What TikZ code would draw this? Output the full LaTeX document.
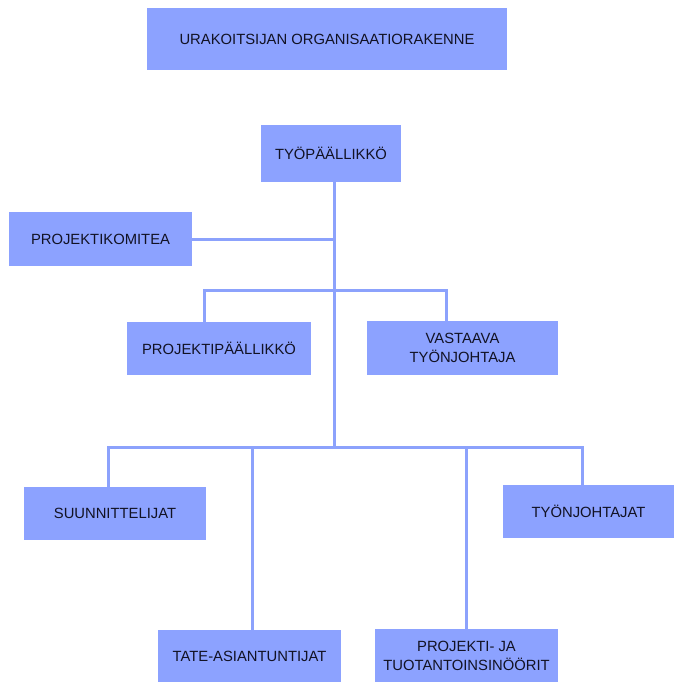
\documentclass[tikz,border=0pt]{standalone}
\usepackage{fontspec}
\setmainfont{Liberation Sans}
\definecolor{boxfill}{RGB}{140,162,255}
\definecolor{linecol}{RGB}{140,162,252}
\definecolor{txt}{RGB}{18,18,36}
\begin{document}
\begin{tikzpicture}[x=1pt,y=-1pt,
  orgbox/.style={fill=boxfill,draw=none,inner sep=0pt,align=center,text=txt,
    font=\fontsize{14.8}{19}\selectfont},
  conn/.style={draw=linecol,line width=3pt}]
\useasboundingbox (0,0) rectangle (674,682);
\fill[white] (0,0) rectangle (674,682);
\node[orgbox,minimum width=360pt,minimum height=62pt] (title) at (327,39) {URAKOITSIJAN ORGANISAATIORAKENNE};
\node[orgbox,minimum width=140pt,minimum height=57pt] (tp) at (331,153.5) {TYÖPÄÄLLIKKÖ};
\node[orgbox,minimum width=183pt,minimum height=54pt] (pk) at (100.5,239) {PROJEKTIKOMITEA};
\node[orgbox,minimum width=184pt,minimum height=53pt] (pp) at (219,348.5) {PROJEKTIPÄÄLLIKKÖ};
\node[orgbox,minimum width=191pt,minimum height=54pt] (va) at (462.5,348) {VASTAAVA\\TYÖNJOHTAJA};
\node[orgbox,minimum width=182pt,minimum height=53pt] (su) at (115,513.5) {SUUNNITTELIJAT};
\node[orgbox,minimum width=171pt,minimum height=53pt] (ty) at (588.5,511.5) {TYÖNJOHTAJAT};
\node[orgbox,minimum width=183pt,minimum height=52pt] (ta) at (249.5,656) {TATE-ASIANTUNTIJAT};
\node[orgbox,minimum width=183pt,minimum height=53pt] (pj) at (466.5,655.5) {PROJEKTI- JA\\TUOTANTOINSINÖÖRIT};
\coordinate (spine) at (334,447);
\coordinate (b1l) at (204,290);
\coordinate (b1r) at (446,290);
\coordinate (b2a) at (108,447);
\coordinate (b2b) at (252,447);
\coordinate (b2c) at (466,447);
\coordinate (b2d) at (582,447);
\draw[conn] (tp.south -| spine) -- (spine);
\draw[conn] (pk.east) -- (pk.east -| spine);
\draw[conn] (b1l |- pp.north) -- (b1l) -- (b1r) -- (b1r |- va.north);
\draw[conn] (b2a |- su.north) -- (b2a) -- (b2d) -- (b2d |- ty.north);
\draw[conn] (b2b) -- (b2b |- ta.north);
\draw[conn] (b2c) -- (b2c |- pj.north);
\end{tikzpicture}
\end{document}
